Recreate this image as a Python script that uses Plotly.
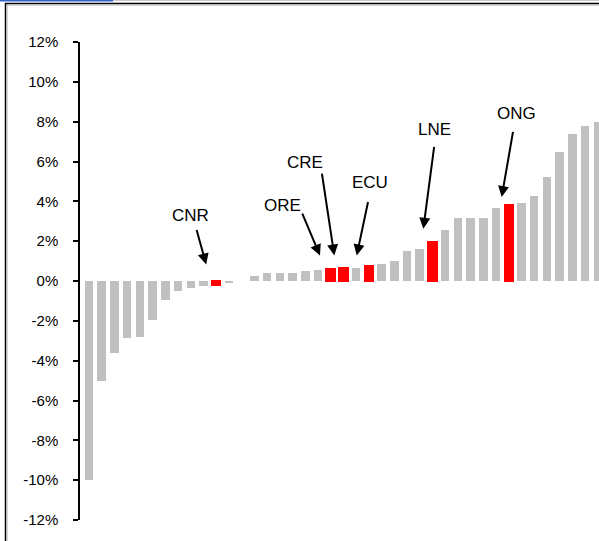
import plotly.graph_objects as go

# Ranked changes, one bar per company (percent)
values = [-10.0, -5.0, -3.63, -2.86, -2.8, -1.95, -0.97, -0.5, -0.37, -0.25,
          -0.22, -0.1, 0.0, 0.25, 0.4, 0.4, 0.42, 0.5, 0.55, 0.62,
          0.66, 0.65, 0.75, 0.84, 1.0, 1.5, 1.62, 1.95, 2.55, 3.15,
          3.15, 3.15, 3.68, 3.82, 3.9, 4.29, 5.2, 6.48, 7.37, 7.79, 7.96]

# Highlighted companies and their rank positions
highlight_names = ["CNR", "ORE", "CRE", "ECU", "LNE", "ONG"]
highlight_idx = [10, 19, 20, 22, 27, 33]

# Y axis ticks
tick_vals = list(range(-12, 13, 2))
tick_text = [f"{v}%" for v in tick_vals]

GRAY = "#C0C0C0"
RED = "#FF0000"
FONT = "Liberation Sans, Arial, sans-serif"

x = list(range(len(values)))
colors = [RED if i in highlight_idx else GRAY for i in x]
widths = [0.67 for _ in x]
line_w = [2 if i in highlight_idx else 0 for i in x]

fig = go.Figure(go.Bar(
    x=x, y=values, width=widths,
    marker=dict(color=colors, line=dict(color=colors, width=line_w)),
    hoverinfo="skip",
))

W, H = 599, 541
L, R, T, B = 80, 0, 42, 21
plot_w, plot_h = W - L - R, H - T - B


def px_x(p):
    return (p - L) / plot_w


def px_y(p):
    return (H - B - p) / plot_h


# Arrow/label placement (pixel offsets from each highlighted bar top)
tip_shift = {"CNR": (-10, 16.5), "ORE": (-10.7, 13.2), "CRE": (-9.1, 12.4),
             "ECU": (-12.1, 10.6), "LNE": (-9.1, 13.4), "ONG": (-7.1, 7.8)}
tail_off = {"CNR": (-10, -36), "ORE": (-18.3, -43.3), "CRE": (-12.6, -83.3),
            "ECU": (11.6, -55), "LNE": (11, -83.3), "ONG": (11.6, -66.7)}
text_shift = {"CNR": (-26, 66), "ORE": (-48.2, 62.7), "CRE": (-38.4, 104.9),
              "ECU": (1.2, 83.1), "LNE": (1.6, 112.2), "ONG": (7.7, 91)}

annotations = []
for name, i in zip(highlight_names, highlight_idx):
    top = max(values[i], 0)
    sx, sy = tip_shift[name]
    ax, ay = tail_off[name]
    annotations.append(dict(
        x=i, y=top, xref="x", yref="y", text="", showarrow=True,
        xshift=sx, yshift=sy, ax=ax, ay=ay,
        arrowhead=2, arrowsize=1.1, arrowwidth=2, arrowcolor="black",
        standoff=0, startstandoff=0,
    ))
    tx, ty = text_shift[name]
    annotations.append(dict(
        x=i, y=top, xref="x", yref="y", text=name, showarrow=False,
        xshift=tx, yshift=ty, xanchor="center", yanchor="middle",
        font=dict(family=FONT, size=17, color="black"),
    ))

shapes = [
    # window-style frame lines around the chart area
    dict(type="line", xref="paper", yref="paper", x0=px_x(0), x1=px_x(113),
         y0=px_y(0.5), y1=px_y(0.5), line=dict(color="#2F5FC8", width=2)),
    dict(type="line", xref="paper", yref="paper", x0=px_x(113), x1=px_x(599),
         y0=px_y(0.5), y1=px_y(0.5), line=dict(color="#C8C8C8", width=1)),
    dict(type="line", xref="paper", yref="paper", x0=px_x(5), x1=px_x(599),
         y0=px_y(3.5), y1=px_y(3.5), line=dict(color="black", width=1.5)),
    dict(type="line", xref="paper", yref="paper", x0=px_x(5), x1=px_x(599),
         y0=px_y(5), y1=px_y(5), line=dict(color="#B0B0B0", width=1)),
    dict(type="line", xref="paper", yref="paper", x0=px_x(5.5), x1=px_x(5.5),
         y0=px_y(3), y1=px_y(541), line=dict(color="black", width=1.5)),
    dict(type="line", xref="paper", yref="paper", x0=px_x(7), x1=px_x(7),
         y0=px_y(5), y1=px_y(541), line=dict(color="#B0B0B0", width=1)),
]

bar_step = 12.72
x0 = -(89 - L) / bar_step
x1 = x0 + plot_w / bar_step

fig.update_layout(
    width=W, height=H,
    margin=dict(l=L, r=R, t=T, b=B, autoexpand=False),
    paper_bgcolor="white", plot_bgcolor="white",
    showlegend=False,
    bargap=0,
    xaxis=dict(range=[x0, x1], visible=False, showgrid=False, zeroline=False),
    yaxis=dict(
        range=[-12, 12], tickvals=tick_vals, ticktext=tick_text,
        showgrid=False, zeroline=False,
        showline=True, linecolor="black", linewidth=1.5,
        ticks="outside", ticklen=5, tickwidth=1.5, tickcolor="black",
        ticklabelstandoff=12,
        tickfont=dict(family=FONT, size=15, color="black"),
    ),
    annotations=annotations,
    shapes=shapes,
)

fig.write_html("out.html")
